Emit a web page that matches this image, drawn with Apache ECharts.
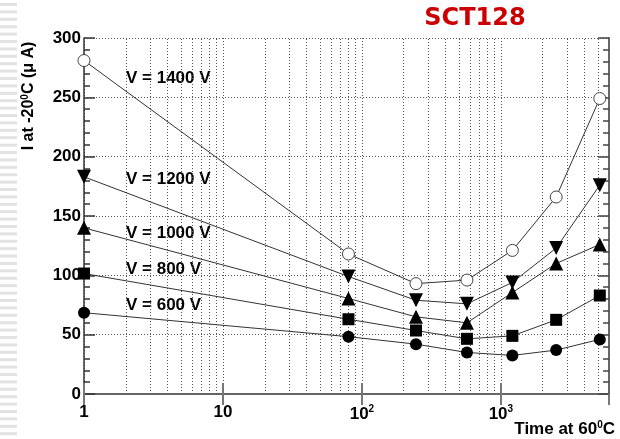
<!DOCTYPE html>
<html>
<head>
    <meta charset="utf-8" />
    <title>SCT128</title>
    <script src="https://cdn.jsdelivr.net/npm/echarts@6/dist/echarts.min.js"></script>
    <style>
        html, body { margin: 0; padding: 0; background: #fff; }
        #main { width: 620px; height: 439px; }
    </style>
</head>
<body>
    <div id="main"></div>

    <script>
        // annealing time at 60C (first point = before annealing, drawn at 1)
        var times = [1, 80, 245, 570, 1210, 2500, 5150];

        var v1400 = [281, 118, 93, 96, 121, 166, 249];
        var v1200 = [183, 99, 79, 76, 94, 123, 176];
        var v1000 = [140, 80.5, 65, 60, 85.5, 110, 126];
        var v800 = [101.5, 63, 53.5, 46.5, 49, 62.5, 83];
        var v600 = [68.5, 48.3, 42, 35, 32.5, 37, 46];

        var seriesNames = ['V = 1400 V', 'V = 1200 V', 'V = 1000 V', 'V = 800 V', 'V = 600 V'];

        // log minor grid positions
        var minorGrid = [2, 3, 4, 5, 6, 7, 8, 9, 20, 30, 40, 50, 60, 70, 80, 90,
            200, 300, 400, 500, 600, 700, 800, 900, 2000, 3000, 4000, 5000];

        function pairs(ys) {
            var out = [];
            for (var i = 0; i < times.length; i++) out.push([times[i], ys[i]]);
            return out;
        }

        var myChart = echarts.init(document.getElementById('main'));

        var font = '"Liberation Sans", Arial, sans-serif';
        var frameColor = '#666';
        var gridStyle = { color: '#555', type: [1, 2], width: 1 };

        function xLabel(v) {
            var e = Math.round(Math.log10(v));
            if (Math.abs(v - Math.pow(10, e)) > 1e-6 * v) return '';
            if (e === 0) return '1';
            if (e === 1) return '10';
            return '10{s|' + e + '}';
        }

        function lineSeries(name, ys, symbol, rotate, empty) {
            return {
                name: name,
                type: 'line',
                data: pairs(ys),
                symbol: symbol,
                symbolRotate: rotate,
                symbolSize: symbol === 'rect' ? 12 : (symbol === 'triangle' ? 14 : 12),
                showAllSymbol: true,
                lineStyle: { color: '#333', width: 1 },
                itemStyle: empty
                    ? { color: '#fff', borderColor: '#444', borderWidth: 1 }
                    : { color: '#000', borderColor: '#000', borderWidth: 0 },
                z: 5
            };
        }

        var series = [
            lineSeries(seriesNames[0], v1400, 'circle', 0, true),
            lineSeries(seriesNames[1], v1200, 'triangle', 180, false),
            lineSeries(seriesNames[2], v1000, 'triangle', 0, false),
            lineSeries(seriesNames[3], v800, 'rect', 0, false),
            lineSeries(seriesNames[4], v600, 'circle', 0, false)
        ];

        series[0].markLine = {
            silent: true,
            symbol: 'none',
            label: { show: false },
            lineStyle: gridStyle,
            z: 1,
            data: minorGrid.map(function (v) { return { xAxis: v }; })
        };

        // left decoration strip of the slide
        var stripes = [];
        for (var y = 3; y < 439; y += 7.4) {
            stripes.push({ type: 'rect', shape: { x: 0, y: y, width: 17, height: 3 }, style: { fill: '#e2e2e2' }, silent: true });
        }

        var labelFont = 'bold 17px ' + font;

        var option = {
            animation: false,
            backgroundColor: '#fff',
            grid: { left: 84, right: 11, top: 38, bottom: 45 },
            xAxis: [
                {
                    type: 'log',
                    logBase: 10,
                    min: 1,
                    max: 6000,
                    position: 'bottom',
                    axisLine: { lineStyle: { color: frameColor, width: 2 } },
                    axisTick: { inside: true, length: 11, lineStyle: { color: '#777', width: 2 } },
                    axisLabel: {
                        formatter: xLabel,
                        margin: 10,
                        color: '#000',
                        fontFamily: font,
                        fontWeight: 'bold',
                        fontSize: 17,
                        showMaxLabel: false,
                        rich: {
                            s: { fontSize: 10, fontWeight: 'bold', fontFamily: font, color: '#000', padding: [0, 0, 10, 0] }
                        }
                    },
                    splitLine: { show: true, lineStyle: gridStyle }
                },
                {
                    type: 'log',
                    logBase: 10,
                    min: 1,
                    max: 6000,
                    position: 'top',
                    axisLine: { lineStyle: { color: frameColor, width: 2 } },
                    axisTick: { inside: true, length: 11, lineStyle: { color: '#777', width: 2 } },
                    axisLabel: { show: false },
                    splitLine: { show: false }
                }
            ],
            yAxis: [
                {
                    type: 'value',
                    min: 0,
                    max: 300,
                    interval: 50,
                    axisLine: { show: true, lineStyle: { color: '#333', width: 1.5 } },
                    axisTick: { show: true, inside: true, length: 11, lineStyle: { color: '#333', width: 1.5 } },
                    minorTick: { show: true, splitNumber: 5, length: 6, lineStyle: { color: '#333', width: 1.5 } },
                    axisLabel: {
                        margin: 3,
                        color: '#000',
                        fontFamily: font,
                        fontWeight: 'bold',
                        fontSize: 17
                    },
                    splitLine: { show: true, lineStyle: gridStyle }
                },
                {
                    type: 'value',
                    min: 0,
                    max: 300,
                    interval: 50,
                    position: 'right',
                    axisLine: { show: true, lineStyle: { color: frameColor, width: 2 } },
                    axisTick: { show: true, inside: true, length: 11, lineStyle: { color: '#444', width: 1.5 } },
                    minorTick: { show: true, splitNumber: 5, length: 6, lineStyle: { color: '#444', width: 1.5 } },
                    axisLabel: { show: false },
                    splitLine: { show: false }
                }
            ],
            series: series,
            graphic: stripes.concat([
                {
                    type: 'text',
                    x: 475, y: 19,
                    style: {
                        text: 'SCT128',
                        fill: '#cc0000',
                        font: 'bold 24px "DejaVu Sans", Verdana, sans-serif',
                        align: 'center',
                        verticalAlign: 'middle'
                    }
                },
                {
                    type: 'text',
                    x: 29, y: 96,
                    rotation: Math.PI / 2,
                    style: {
                        text: 'I at -20{s|0}C (\u03bc A)',
                        fill: '#000',
                        font: 'bold 16px ' + font,
                        align: 'center',
                        verticalAlign: 'middle',
                        rich: {
                            s: { fontSize: 10, fontWeight: 'bold', fontFamily: font, fill: '#000', padding: [0, 0, 8, 0] }
                        }
                    }
                },
                {
                    type: 'text',
                    x: 615, y: 429,
                    style: {
                        text: 'Time at 60{s|0}C',
                        fill: '#000',
                        font: 'bold 17px ' + font,
                        align: 'right',
                        verticalAlign: 'middle',
                        rich: {
                            s: { fontSize: 10, fontWeight: 'bold', fontFamily: font, fill: '#000', padding: [0, 0, 8, 0] }
                        }
                    }
                },
                { type: 'text', x: 126, y: 78, style: { text: seriesNames[0], fill: '#000', font: labelFont, verticalAlign: 'middle' } },
                { type: 'text', x: 126, y: 179, style: { text: seriesNames[1], fill: '#000', font: labelFont, verticalAlign: 'middle' } },
                { type: 'text', x: 126, y: 233, style: { text: seriesNames[2], fill: '#000', font: labelFont, verticalAlign: 'middle' } },
                { type: 'text', x: 126, y: 269, style: { text: seriesNames[3], fill: '#000', font: labelFont, verticalAlign: 'middle' } },
                { type: 'text', x: 126, y: 305, style: { text: seriesNames[4], fill: '#000', font: labelFont, verticalAlign: 'middle' } }
            ])
        };

        myChart.setOption(option);
    </script>
</body>
</html>
